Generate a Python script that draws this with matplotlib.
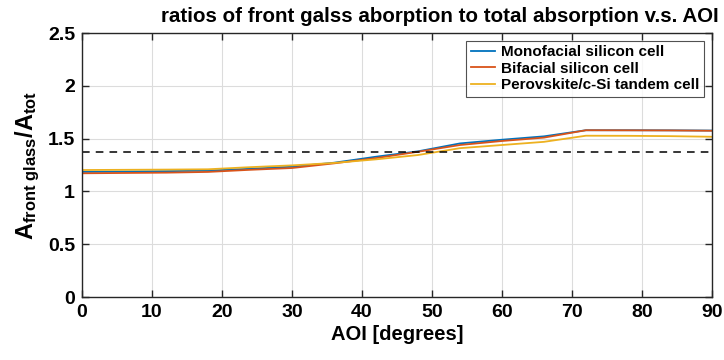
import matplotlib.pyplot as plt
import numpy as np

plt.rcParams['font.family'] = 'Liberation Sans'
plt.rcParams['font.weight'] = 'bold'
plt.rcParams['mathtext.fontset'] = 'custom'
plt.rcParams['mathtext.rm'] = 'Liberation Sans:bold'
plt.rcParams['mathtext.it'] = 'Liberation Sans:bold'
plt.rcParams['mathtext.bf'] = 'Liberation Sans:bold'

# angle of incidence (degrees)
aoi = [0, 6, 12, 18, 24, 30, 36, 42, 48, 54, 60, 66, 72, 78, 84, 90]

# A_front_glass / A_tot for each cell type
mono = [1.185, 1.188, 1.192, 1.197, 1.215, 1.234, 1.272, 1.329, 1.380, 1.455,
        1.490, 1.522, 1.580, 1.580, 1.579, 1.577]
bifacial = [1.172, 1.175, 1.178, 1.185, 1.205, 1.222, 1.266, 1.316, 1.376, 1.440,
            1.478, 1.510, 1.580, 1.579, 1.578, 1.575]
tandem = [1.203, 1.205, 1.207, 1.210, 1.230, 1.247, 1.270, 1.304, 1.345, 1.410,
          1.440, 1.470, 1.528, 1.527, 1.524, 1.518]

ref_level = 1.373

fig = plt.figure(figsize=(7.24, 3.6), dpi=100)
ax = fig.add_axes([0.1133, 0.175, 0.870, 0.733])

ax.plot(aoi, mono, color='#0072BD', lw=1.3, label='Monofacial silicon cell')
ax.plot(aoi, bifacial, color='#D95319', lw=1.3, label='Bifacial silicon cell')
ax.plot(aoi, tandem, color='#EDB120', lw=1.3, label='Perovskite/c-Si tandem cell')
ax.axhline(ref_level, color='black', lw=1.1, ls=(0, (5, 4)))

ax.set_xlim(0, 90)
ax.set_ylim(0, 2.5)
ax.set_xticks(np.arange(0, 91, 10))
ax.set_yticks([0, 0.5, 1, 1.5, 2, 2.5])
ax.set_yticklabels(['0', '0.5', '1', '1.5', '2', '2.5'])
ax.grid(True, color='#dcdcdc', lw=0.8)
ax.set_axisbelow(True)
ax.tick_params(direction='in', top=True, right=True, labelsize=14, length=5,
               width=1, color='#262626', pad=5)
for s in ax.spines.values():
    s.set_color('#262626')
    s.set_linewidth(1)

ax.set_title('ratios of front galss aborption to total absorption v.s. AOI',
             fontsize=14.8, fontweight='bold', x=0.568, y=1.0, pad=8)
ax.set_xlabel('AOI [degrees]', fontsize=14.5, fontweight='bold', labelpad=3)
ax.set_ylabel(r'$A_{\mathrm{front\ glass}}/A_{\mathrm{tot}}$', fontsize=17, labelpad=4)

leg = ax.legend(loc='upper right', fontsize=11, frameon=True, fancybox=False,
                edgecolor='#262626', handlelength=1.6, borderpad=0.3,
                labelspacing=0.15, handletextpad=0.4, borderaxespad=0.5)
leg.get_frame().set_linewidth(0.8)
for t in leg.get_texts():
    t.set_fontweight('bold')

fig.savefig('out.png', dpi=100)
